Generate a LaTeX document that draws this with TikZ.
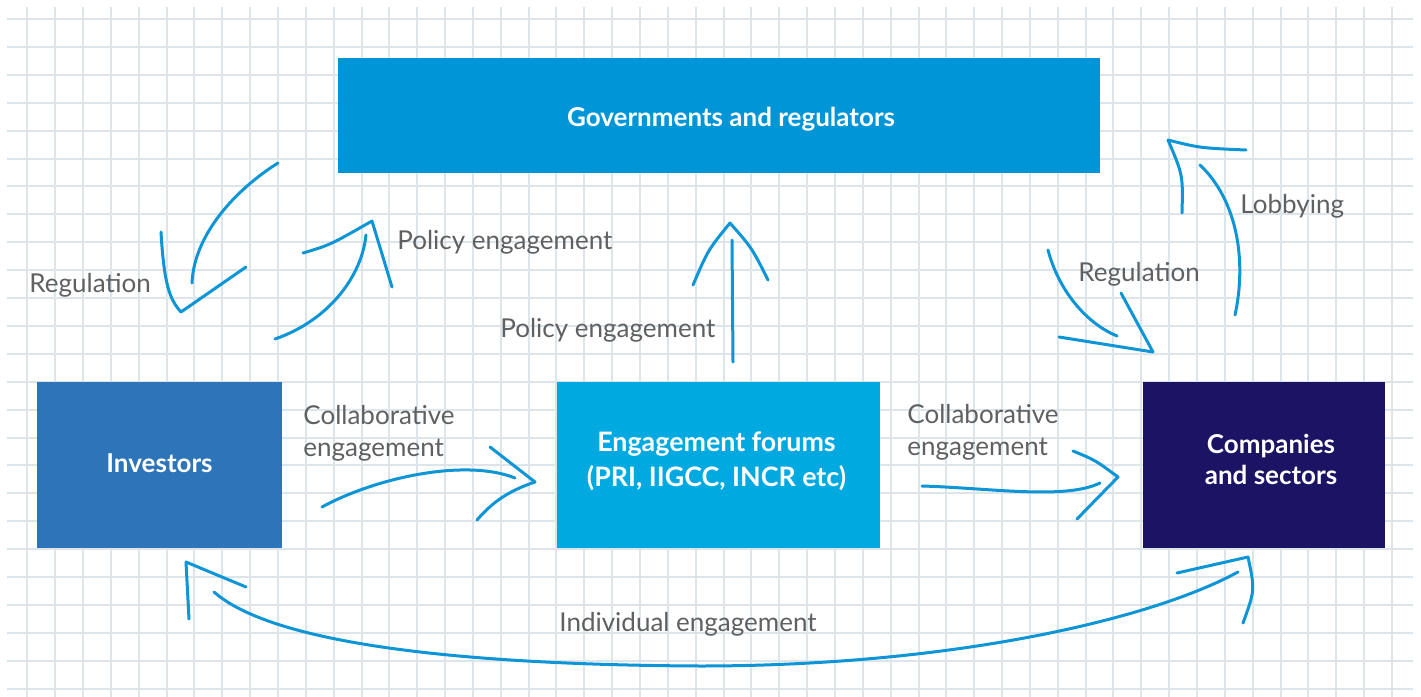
\documentclass[tikz,border=0pt]{standalone}
\usepackage{fontspec}
\setmainfont{Lato}
\usetikzlibrary{positioning}
\definecolor{gridgray}{HTML}{DEE5EA}
\definecolor{labelgray}{HTML}{5F6062}
\definecolor{arrowblue}{HTML}{0D95D5}
\definecolor{govblue}{HTML}{0095D6}
\definecolor{invblue}{HTML}{2E74B8}
\definecolor{forumblue}{HTML}{00A9E0}
\definecolor{compnavy}{HTML}{1B1464}
\tikzset{x=0.5pt,y=-0.5pt,
  box/.style={rectangle, inner sep=0pt},
  boxtext/.style={inner sep=0pt, text=white, align=center,
    font=\bfseries\fontsize{13}{17}\selectfont},
  lbl/.style={anchor=west, inner sep=0pt, align=left, text=labelgray,
    font=\fontsize{13}{16}\selectfont},
  stroke/.style={draw=arrowblue, line width=1.5pt, line cap=round, line join=round}}

\begin{document}
\begin{tikzpicture}
\useasboundingbox (0,0) rectangle (1421,697);
\fill[white] (0,0) rectangle (1421,697);
\foreach \k in {0,...,24}
  \draw[gridgray, line width=1pt] (7,19+27.9*\k) -- (1413,19+27.9*\k);
\foreach \k in {0,...,49}
  \draw[gridgray, line width=1pt] (27.3+27.85*\k,7) -- (27.3+27.85*\k,697);

\node[box, fill=govblue, minimum width=381pt, minimum height=57.5pt,
  label={[boxtext, xshift=6pt, yshift=-2pt]center:Governments and regulators}] (gov) at (719,115.5) {};
\node[box, fill=invblue, minimum width=122.5pt, minimum height=83pt,
  label={[boxtext, yshift=1pt]center:Investors}] (inv) at (159.5,465) {};
\node[box, fill=forumblue, minimum width=161.5pt, minimum height=83pt,
  label={[boxtext, xshift=-1pt, yshift=2pt, font=\bfseries\fontsize{13.4}{17.5}\selectfont]center:Engagement forums\\(PRI, IIGCC, INCR etc)}] (forum) at (718.5,465) {};
\node[box, fill=compnavy, minimum width=121pt, minimum height=83pt,
  label={[boxtext, xshift=3.5pt, yshift=3pt, font=\bfseries\fontsize{13}{15.5}\selectfont]center:Companies\\and sectors}] (comp) at (1264,465) {};

\coordinate (regL-a) at (278,163);
\coordinate (regL-b) at (192,283);
\coordinate (regL-tip) at (181,312);
\coordinate (polL-a) at (275,339);
\coordinate (polL-b) at (366,235);
\coordinate (polL-tip) at (372,221);
\coordinate (polC-a) at (733,362);
\coordinate (polC-b) at (732,240);
\coordinate (polC-tip) at (730,223);
\coordinate (lob-a) at (1235,315);
\coordinate (lob-b) at (1200,165);
\coordinate (lob-tip) at (1168,140);
\coordinate (regR-a) at (1048,250);
\coordinate (regR-b) at (1117,336);
\coordinate (regR-tip) at (1153,352);
\coordinate (colL-a) at (322,507);
\coordinate (colL-b) at (515,478);
\coordinate (colL-tip) at (535,482);
\coordinate (colR-a) at (922,486);
\coordinate (colR-b) at (1100,483);
\coordinate (colR-tip) at (1118,477);
\coordinate (ind-a) at (214,592);
\coordinate (ind-m) at (700,666);
\coordinate (ind-b) at (1238,572);
\coordinate (indL-tip) at (186,562);
\coordinate (indR-tip) at (1248,557);

\draw[stroke] (regL-a) .. controls (235,190) and (194,235) .. (regL-b);
\draw[stroke] (161,232) .. controls (164,285) and (170,300) .. (regL-tip) -- (246,267);
\draw[stroke] (polL-a) .. controls (330,320) and (362,275) .. (polL-b);
\draw[stroke] (303,253) .. controls (330,245) .. (polL-tip) -- (392,287);
\draw[stroke] (polC-a) -- (polC-b);
\draw[stroke] (693,285) .. controls (708,250) .. (polC-tip) .. controls (752,248) .. (768,280);
\draw[stroke] (lob-a) .. controls (1247,260) and (1237,200) .. (lob-b);
\draw[stroke] (1182,213) .. controls (1183,175) .. (lob-tip) .. controls (1200,148) .. (1246,150);
\draw[stroke] (regR-a) .. controls (1060,295) and (1090,325) .. (regR-b);
\draw[stroke] (1121,293) -- (regR-tip) -- (1059,337);
\draw[stroke] (colL-a) .. controls (375,478) and (465,458) .. (colL-b);
\draw[stroke] (490,447) -- (colL-tip) .. controls (505,492) and (490,505) .. (477,520);
\draw[stroke] (colR-a) .. controls (990,488) and (1065,500) .. (colR-b);
\draw[stroke] (1073,451) .. controls (1095,460) .. (colR-tip) -- (1077,519);
\draw[stroke] (ind-a) .. controls (280,650) and (500,665) .. (ind-m) .. controls (950,666) and (1150,620) .. (ind-b);
\draw[stroke] (189,619) -- (indL-tip) -- (246,587);
\draw[stroke] (1177,573) -- (indR-tip) .. controls (1255,590) .. (1243,623);

\node[lbl] (regL) at (29,285) {Regulation};
\node[lbl] (polL) at (397,242) {Policy engagement};
\node[lbl] (polC) at (500,330) {Policy engagement};
\node[lbl] (regR) at (1078,274) {Regulation};
\node[lbl] (lob) at (1240,206) {Lobbying};
\node[lbl] (colL) at (303,433) {Collaborative\\engagement};
\node[lbl] (colR) at (907,432) {Collaborative\\engagement};
\node[lbl] (ind) at (559,624) {Individual engagement};
\end{tikzpicture}
\end{document}
